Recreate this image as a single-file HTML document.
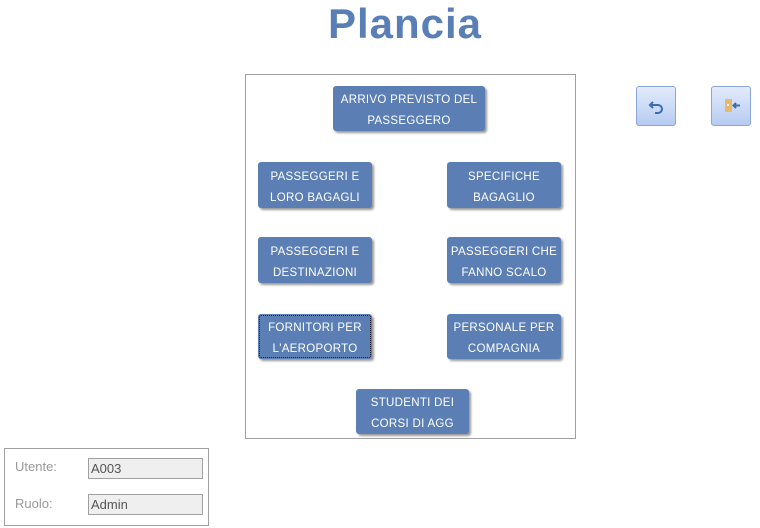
<!DOCTYPE html>
<html><head><style>
body{margin:0;width:760px;height:528px;background:#fff;position:relative;overflow:hidden;font-family:"Liberation Sans",sans-serif}
.t{position:absolute;left:0;width:810px;top:0px;text-align:center;font-size:42px;font-weight:bold;color:#5a7fb6;letter-spacing:1px}
.f{position:absolute;left:245px;top:74px;width:329px;height:363px;border:1px solid #a0a0a0;overflow:hidden}
.b{position:absolute;background:#5b7fb5;border-radius:3px;color:#fff;font-size:11.5px;line-height:21px;text-align:center;box-shadow:2px 2px 2px #999;letter-spacing:.3px;display:flex;align-items:center;justify-content:center;padding-top:5px;box-sizing:border-box}
.ib{position:absolute;width:38px;height:38px;border:1px solid #8aa6dc;border-radius:3px;background:linear-gradient(#e3ebfb,#b6cbf2)}
.p{position:absolute;left:4px;top:448px;width:203px;height:76px;border:1px solid #a0a0a0}
.l{position:absolute;left:10px;color:#999;font-size:13px}
.x{position:absolute;left:83px;border:1px solid #a0a0a0;background:#efefef;color:#555;font-size:13px;line-height:19px;padding-left:2px;box-sizing:border-box;width:115px;height:21px}
</style></head><body>
<div class="t">Plancia</div>
<div class="f">
<div class="b" style="left:87px;top:11px;width:152px;height:45px">ARRIVO PREVISTO DEL<br>PASSEGGERO</div>
<div class="b" style="left:12px;top:87px;width:114px;height:46px">PASSEGGERI E<br>LORO BAGAGLI</div>
<div class="b" style="left:201px;top:87px;width:114px;height:46px">SPECIFICHE<br>BAGAGLIO</div>
<div class="b" style="left:12px;top:162px;width:114px;height:46px">PASSEGGERI E<br>DESTINAZIONI</div>
<div class="b" style="left:201px;top:162px;width:114px;height:46px">PASSEGGERI CHE<br>FANNO SCALO</div>
<div class="b" style="left:12px;top:239px;width:114px;height:45px;outline:1px dotted #223;outline-offset:-2px">FORNITORI PER<br>L'AEROPORTO</div>
<div class="b" style="left:201px;top:239px;width:114px;height:45px">PERSONALE PER<br>COMPAGNIA</div>
<div class="b" style="left:110px;top:314px;width:113px;height:45px">STUDENTI DEI<br>CORSI DI AGG</div>
</div>
<div class="ib" style="left:636px;top:86px"><svg width="38" height="38"><path d="M16 15 L13 18 L16 21 M13 18 H21 A4 4 0 0 1 21 26 H18" fill="none" stroke="#3d6db0" stroke-width="2"/></svg></div>
<div class="ib" style="left:711px;top:86px"><svg width="38" height="38"><rect x="13" y="12" width="7" height="13" fill="#e8b96a"/><rect x="15" y="17" width="2" height="2" fill="#fff"/><path d="M28 18.5 H22 M24 16 L21.5 18.5 L24 21" stroke="#3d6db0" stroke-width="2" fill="none"/></svg></div>
<div class="p">
<div class="l" style="top:10px">Utente:</div><div class="x" style="top:9px">A003</div>
<div class="l" style="top:47px">Ruolo:</div><div class="x" style="top:45px">Admin</div>
</div>
</body></html>
